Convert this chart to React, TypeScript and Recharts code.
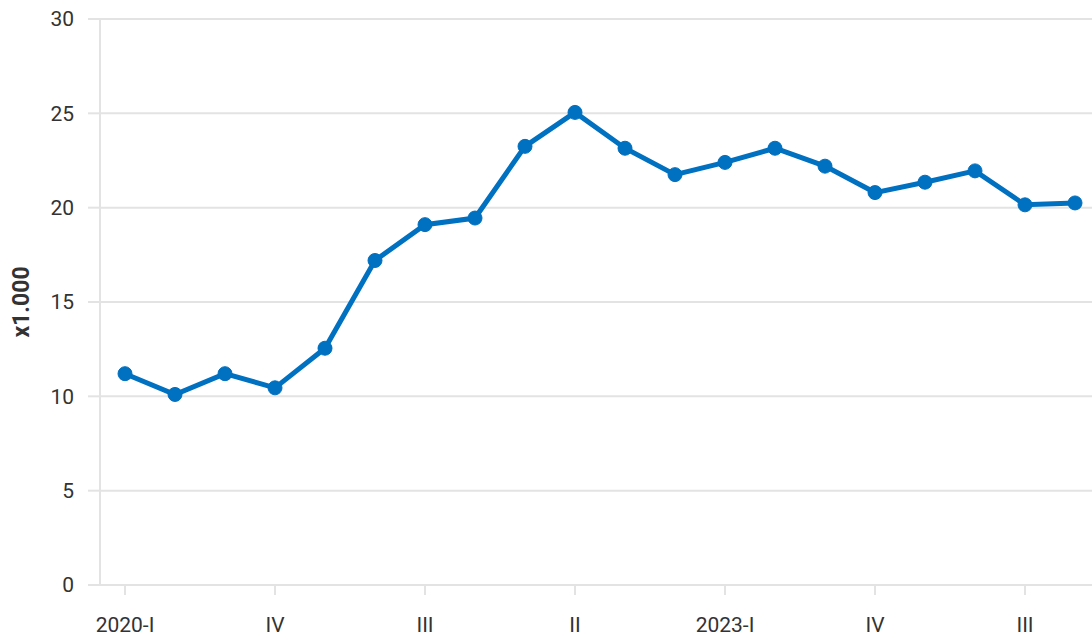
import { LineChart, Line, XAxis, YAxis, CartesianGrid } from "recharts";

// kwartalen 2020-I t/m 2024-IV
const quarters = [
  "2020-I", "2020-II", "2020-III", "2020-IV",
  "2021-I", "2021-II", "2021-III", "2021-IV",
  "2022-I", "2022-II", "2022-III", "2022-IV",
  "2023-I", "2023-II", "2023-III", "2023-IV",
  "2024-I", "2024-II", "2024-III", "2024-IV",
];
const values = [
  11.2, 10.1, 11.2, 10.45, 12.55, 17.2, 19.1, 19.45, 23.25, 25.05,
  23.15, 21.75, 22.4, 23.15, 22.2, 20.8, 21.35, 21.95, 20.15, 20.25,
];
const yTicks = [0, 5, 10, 15, 20, 25, 30];

const data = quarters.map((q, i) => ({ q, v: values[i] }));

// jaartal alleen bij het eerste kwartaal
const fmtQuarter = (q: string) => (q.endsWith("-I") ? q : q.split("-")[1]);

const tickStyle = { fill: "#333", fontSize: 21, fontFamily: "Roboto" };

export default function App() {
  return (
    <div
      style={{
        position: "fixed",
        left: 0,
        top: 0,
        width: 1092,
        height: 639,
        overflow: "hidden",
        background: "#fff",
      }}
    >
      <LineChart width={1100} height={639} data={data} margin={{ top: 19, right: 0, left: 0, bottom: 0 }}>
        <CartesianGrid vertical={false} stroke="#e3e3e3" strokeWidth={2} />
        <XAxis
          dataKey="q"
          padding={{ left: 25, right: 25 }}
          interval={2}
          tickFormatter={fmtQuarter}
          height={54}
          tickSize={10}
          tickMargin={22}
          tick={tickStyle}
          stroke="#e3e3e3"
          strokeWidth={2}
        />
        <YAxis
          domain={[0, 30]}
          ticks={yTicks}
          width={100}
          tickSize={12}
          tickMargin={14}
          tick={tickStyle}
          stroke="#e3e3e3"
          strokeWidth={2}
          label={{
            value: "x1.000",
            angle: -90,
            position: "insideLeft",
            offset: 21,
            style: { fill: "#333", fontSize: 23, fontWeight: 700, fontFamily: "Roboto", textAnchor: "middle" },
          }}
        />
        <Line
          dataKey="v"
          stroke="#0070c0"
          strokeWidth={5}
          dot={{ r: 7, fill: "#0070c0", stroke: "#0070c0", strokeWidth: 1 }}
          isAnimationActive={false}
        />
      </LineChart>
    </div>
  );
}
